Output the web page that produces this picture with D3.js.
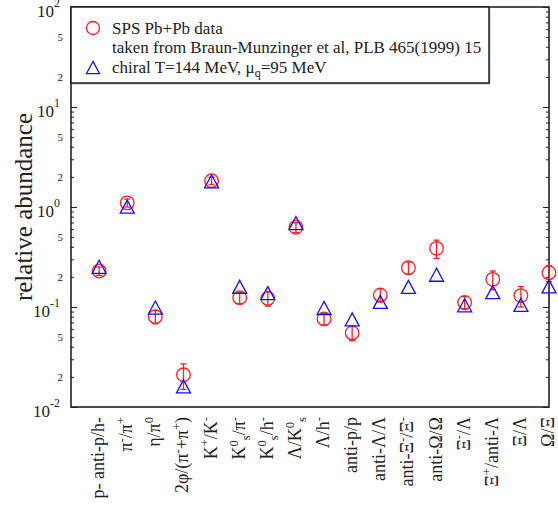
<!DOCTYPE html>
<html>
<head>
<meta charset="utf-8">
<script src="https://cdn.jsdelivr.net/npm/d3@7"></script>
<style>
  body { margin: 0; background: #fff; }
</style>
</head>
<body>
<svg id="Chart" width="558" height="512"></svg>
<script>
// ratio labels, gnuplot style markup: ^x superscript, _x subscript
let categories = [
  "p- anti-p/h-", "π^-/π^+", "η/π^0", "2φ/(π^-+π^+)", "K^+/K^-",
  "K^0_s/π^-", "K^0_s/h^-", "Λ/K^0_s", "Λ/h^-", "anti-p/p",
  "anti-Λ/Λ", "anti-Ξ^-/Ξ^-", "anti-Ω/Ω", "Ξ^-/Λ", "Ξ^+/anti-Λ",
  "Ξ/Λ", "Ω/Ξ"
]
// SPS Pb+Pb data (red circles) and error
let dataValues = [0.229, 1.10, 0.080, 0.021, 1.83, 0.124, 0.122, 0.626, 0.076, 0.055,
                  0.132, 0.247, 0.386, 0.111, 0.189, 0.130, 0.220]
let dataErrors = [0.022, 0.10, 0.012, 0.006, 0.15, 0.016, 0.020, 0.070, 0.010, 0.009,
                  0.020, 0.035, 0.080, 0.016, 0.040, 0.030, 0.040]
// chiral model T=144 MeV (blue triangles)
let modelValues = [0.240, 0.96, 0.094, 0.0153, 1.72, 0.151, 0.131, 0.656, 0.093, 0.0714,
                   0.107, 0.151, 0.200, 0.099, 0.134, 0.100, 0.153]

let majorTicks = [0.01, 0.1, 1, 10, 100]
let majorLabels = ["10^{-2}", "10^{-1}", "10^0", "10^1", "10^2"]
let minorLabelled = [2, 5]

let legendLines = [
  "SPS Pb+Pb data",
  "taken from Braun-Munzinger et al, PLB 465(1999) 15",
  "chiral T=144 MeV, μ_q=95 MeV"
]

let FONT = "Liberation Serif"

let svg = d3.select("#Chart")
let margin = { left: 71, right: 9, top: 7, bottom: 105 }
let width = 558, height = 512

let xScale = d3.scaleLinear()
  .domain([0, categories.length])
  .range([margin.left, width - margin.right])
let yScale = d3.scaleLog()
  .domain([0.01, 100])
  .range([height - margin.bottom, margin.top])

function parseMarkup(str){
  let parts = []
  let buf = ""
  let i = 0
  while (i < str.length){
    let c = str[i]
    if (c === "^" || c === "_"){
      if (buf) { parts.push({ text: buf, shift: null }); buf = "" }
      let t
      if (str[i + 1] === "{"){
        let end = str.indexOf("}", i)
        t = str.slice(i + 2, end)
        i = end + 1
      } else {
        t = str[i + 1]
        i += 2
      }
      parts.push({ text: t, shift: c === "^" ? "sup" : "sub" })
    } else {
      buf += c
      i++
    }
  }
  if (buf) parts.push({ text: buf, shift: null })
  return parts
}

function richText(sel, str, size, supShift = 0.4){
  sel.attr("font-family", FONT).attr("fill", "#222")
  let cur = 0
  parseMarkup(str).forEach(p => {
    let off = p.shift === "sup" ? -supShift * size : p.shift === "sub" ? 0.28 * size : 0
    let t = sel.append("tspan")
      .attr("dy", off - cur)
      .attr("font-family", FONT)
      .attr("font-size", p.shift ? 0.7 * size : size)
      .text(p.text)
    if (/[μηφ]/.test(p.text) && p.text.length === 1) t.attr("font-style", "italic")
    cur = off
  })
}

// all log ticks between 0.01 and 100
let allTicks = []
majorTicks.forEach((m, i) => {
  if (i === majorTicks.length - 1) return
  for (let k = 2; k <= 9; k++) allTicks.push(m * k)
})

function drawAxes(){
  let left = d3.axisLeft(yScale).tickValues(allTicks).tickSize(-3).tickFormat("")
  let leftMajor = d3.axisLeft(yScale).tickValues(majorTicks).tickSize(-6).tickFormat("")
  let right = d3.axisRight(yScale).tickValues(allTicks).tickSize(-3).tickFormat("")
  let rightMajor = d3.axisRight(yScale).tickValues(majorTicks).tickSize(-6).tickFormat("")
  ;[[left, margin.left], [leftMajor, margin.left], [right, width - margin.right], [rightMajor, width - margin.right]]
    .forEach(([ax, x]) => {
      let g = svg.append("g").attr("transform", `translate(${x},0)`).call(ax)
      g.select(".domain").remove()
      g.selectAll("text").remove()
      g.selectAll("line").attr("stroke", "#222").attr("stroke-width", 1)
    })

  svg.append("rect")
    .attr("x", margin.left).attr("y", margin.top)
    .attr("width", width - margin.left - margin.right)
    .attr("height", height - margin.top - margin.bottom)
    .attr("fill", "none").attr("stroke", "#222").attr("stroke-width", 1.6)

  // y tick labels: "10" sits under the tick, exponent at the tick
  majorTicks.forEach((v, i) => {
    let t = svg.append("text")
      .attr("x", 60).attr("y", yScale(v) + 9.5)
      .attr("text-anchor", "end")
    richText(t, majorLabels[i], 17, 0.55)
  })
  majorTicks.slice(0, -1).forEach(m => {
    minorLabelled.forEach(k => {
      let t = svg.append("text")
        .attr("x", 63).attr("y", yScale(m * k) + 4)
        .attr("text-anchor", "end")
      richText(t, String(k), 11)
    })
  })

  let title = svg.append("text")
    .attr("transform", `translate(32,${(margin.top + height - margin.bottom) / 2}) rotate(-90)`)
    .attr("text-anchor", "middle")
  richText(title, "relative abundance", 25)

  // category labels, rotated
  categories.forEach((c, i) => {
    let t = svg.append("text")
      .attr("transform", `translate(${xScale(i + 1) + 5},${height - margin.bottom + 10}) rotate(-90)`)
      .attr("text-anchor", "end")
    richText(t, c, 18)
  })
}

function trianglePath(cx, cy, s){
  return `M${cx},${cy - s * 0.62}L${cx - s / 2},${cy + s * 0.31}L${cx + s / 2},${cy + s * 0.31}Z`
}

function drawPoints(){
  let idx = d3.range(categories.length)
  let err = svg.append("g").attr("stroke", "#ff2020").attr("stroke-width", 1.3)
  idx.forEach(i => {
    let x = xScale(i + 1)
    let y0 = yScale(dataValues[i] - dataErrors[i])
    let y1 = yScale(dataValues[i] + dataErrors[i])
    err.append("line").attr("x1", x).attr("x2", x).attr("y1", y0).attr("y2", y1)
    err.append("line").attr("x1", x - 3).attr("x2", x + 3).attr("y1", y0).attr("y2", y0)
    err.append("line").attr("x1", x - 3).attr("x2", x + 3).attr("y1", y1).attr("y2", y1)
  })
  svg.append("g").selectAll("circle").data(idx).enter().append("circle")
    .attr("cx", i => xScale(i + 1))
    .attr("cy", i => yScale(dataValues[i]))
    .attr("r", 6.8)
    .attr("fill", "none").attr("stroke", "#ff2020").attr("stroke-width", 1.3)
  svg.append("g").selectAll("path").data(idx).enter().append("path")
    .attr("d", i => trianglePath(xScale(i + 1), yScale(modelValues[i]), 14))
    .attr("fill", "none").attr("stroke", "#1010ff").attr("stroke-width", 1.3)
}

function drawLegend(){
  let box = { x: margin.left, y: margin.top, w: 418, h: 76 }
  svg.append("rect")
    .attr("x", box.x + 1.5).attr("y", box.y + 1.5).attr("width", box.w).attr("height", box.h)
    .attr("fill", "#bbb")
  svg.append("rect")
    .attr("x", box.x).attr("y", box.y).attr("width", box.w).attr("height", box.h)
    .attr("fill", "#fff").attr("stroke", "#111").attr("stroke-width", 1.4)
  svg.append("circle").attr("cx", 93).attr("cy", 28).attr("r", 6.5)
    .attr("fill", "none").attr("stroke", "#ff2020").attr("stroke-width", 1.3)
  svg.append("path").attr("d", trianglePath(93, 69.5, 13))
    .attr("fill", "none").attr("stroke", "#1010ff").attr("stroke-width", 1.3)
  legendLines.forEach((l, i) => {
    let t = svg.append("text").attr("x", 112).attr("y", 33.5 + i * 19.5)
    richText(t, l, 17)
  })
}

drawAxes()
drawPoints()
drawLegend()
</script>
</body>
</html>
